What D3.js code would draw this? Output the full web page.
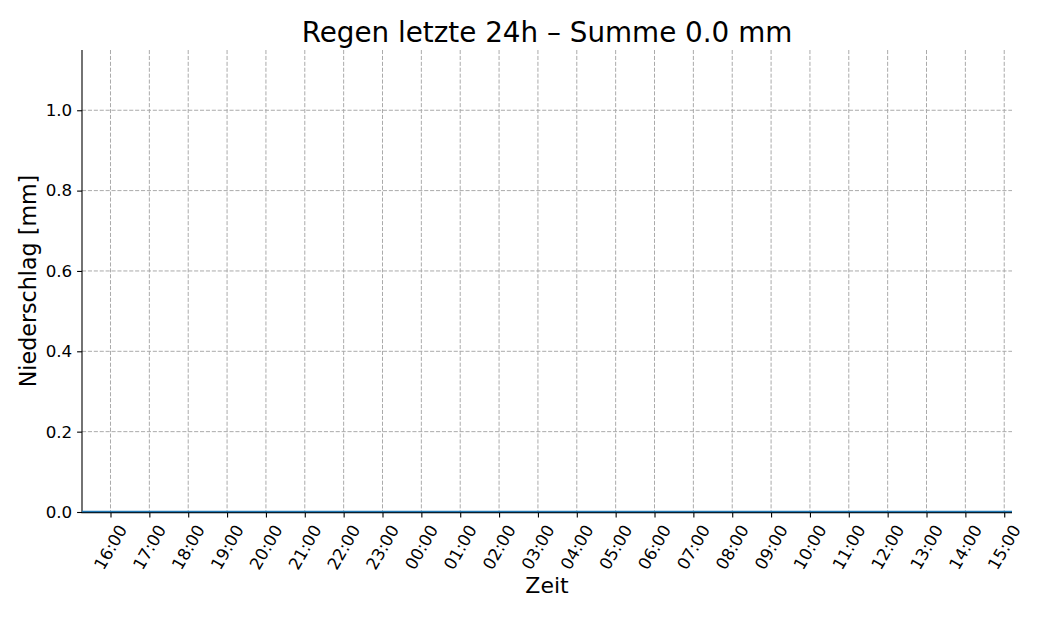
<!DOCTYPE html>
<html><head><meta charset="utf-8">
<script src="https://cdn.jsdelivr.net/npm/d3@7"></script>
<style>body{margin:0;background:#fff}svg{display:block;font-family:"DejaVu Sans",sans-serif}</style>
</head><body>
<svg id="c" width="1043" height="618"></svg>
<script>
const titleText = "Regen letzte 24h – Summe 0.0 mm";
const xLabel = "Zeit";
const yLabel = "Niederschlag [mm]";
const times = [
 "2024-05-01T15:16","2024-05-01T16:16","2024-05-01T17:16","2024-05-01T18:16","2024-05-01T19:16",
 "2024-05-01T20:16","2024-05-01T21:16","2024-05-01T22:16","2024-05-01T23:16","2024-05-02T00:16",
 "2024-05-02T01:16","2024-05-02T02:16","2024-05-02T03:16","2024-05-02T04:16","2024-05-02T05:16",
 "2024-05-02T06:16","2024-05-02T07:16","2024-05-02T08:16","2024-05-02T09:16","2024-05-02T10:16",
 "2024-05-02T11:16","2024-05-02T12:16","2024-05-02T13:16","2024-05-02T14:16","2024-05-02T15:12"
];
const rain = [0,0,0,0,0,0,0,0,0,0,0,0,0,0,0,0,0,0,0,0,0,0,0,0,0];
const yTicks = [0,0.2,0.4,0.6,0.8,1.0];
const yMax = 1.15;

const svg = d3.select("#c");
const L=82,R=1012,T=50,B=512;
const parse = d3.timeParse("%Y-%m-%dT%H:%M");
const data = times.map((t,i)=>({t:parse(t),v:rain[i]}));
const x = d3.scaleTime().domain(d3.extent(data,d=>d.t)).range([L,R]);
const y = d3.scaleLinear().domain([0,yMax]).range([B,T]);
const xTicks = x.ticks(d3.timeHour.every(1));

// grid
const grid = svg.append("g").attr("stroke","#aaaaaa").attr("stroke-width",1).attr("stroke-dasharray","4.1,1.8");
grid.selectAll(".gx").data(xTicks).join("line").attr("x1",d=>x(d)).attr("x2",d=>x(d)).attr("y1",T).attr("y2",B);
grid.selectAll(".gy").data(yTicks).join("line").attr("x1",L).attr("x2",R).attr("y1",d=>y(d)).attr("y2",d=>y(d));

// axes
const fmt = d3.timeFormat("%H:%M");
const ax = svg.append("g").attr("transform",`translate(0,${B})`)
  .call(d3.axisBottom(x).tickValues(xTicks).tickFormat(fmt).tickSize(5.4).tickPadding(0));
const ay = svg.append("g").attr("transform",`translate(${L},0)`)
  .call(d3.axisLeft(y).tickValues(yTicks).tickFormat(d3.format(".1f")).tickSize(4.9).tickPadding(4.9));
[ax,ay].forEach(a=>{
  a.select(".domain").remove();
  a.selectAll(".tick line").attr("stroke","#000").attr("stroke-width",1.1);
  a.selectAll("text").attr("font-family","DejaVu Sans").attr("font-size",16.7).attr("fill","#000");
});
ay.selectAll("text").attr("dy","0.32em");
ax.selectAll(".tick text").each(function(){
  const t=d3.select(this);
  t.attr("text-anchor","middle").attr("dy","0.32em").attr("y",0);
  const w=this.getComputedTextLength(), h=19.4;
  const halfV=(w*Math.sin(Math.PI/3)+h*Math.cos(Math.PI/3))/2;
  t.attr("transform",`translate(0,${4.9+4.9+halfV}) rotate(-60)`);
});
// spines
svg.append("line").attr("x1",L).attr("x2",L).attr("y1",T).attr("y2",B+1.1).attr("stroke","#000").attr("stroke-width",1.1);
svg.append("line").attr("x1",L-0.55).attr("x2",R).attr("y1",B+0.6).attr("y2",B+0.6).attr("stroke","#000").attr("stroke-width",1.1);

// data line
svg.append("path").datum(data).attr("fill","none").attr("stroke","#1f77b4").attr("stroke-width",1.5)
  .attr("transform","translate(0,-0.5)")
  .attr("d",d3.line().x(d=>x(d.t)).y(d=>y(d.v)));

// labels
svg.append("text").attr("x",(L+R)/2).attr("y",42).attr("text-anchor","middle").attr("font-size",27.8).text(titleText);
svg.append("text").attr("x",(L+R)/2).attr("y",593).attr("text-anchor","middle").attr("font-size",22).text(xLabel);
svg.append("text").attr("transform",`translate(36,${(T+B)/2}) rotate(-90)`).attr("text-anchor","middle").attr("font-size",22.2).text(yLabel);
</script>
</body></html>
